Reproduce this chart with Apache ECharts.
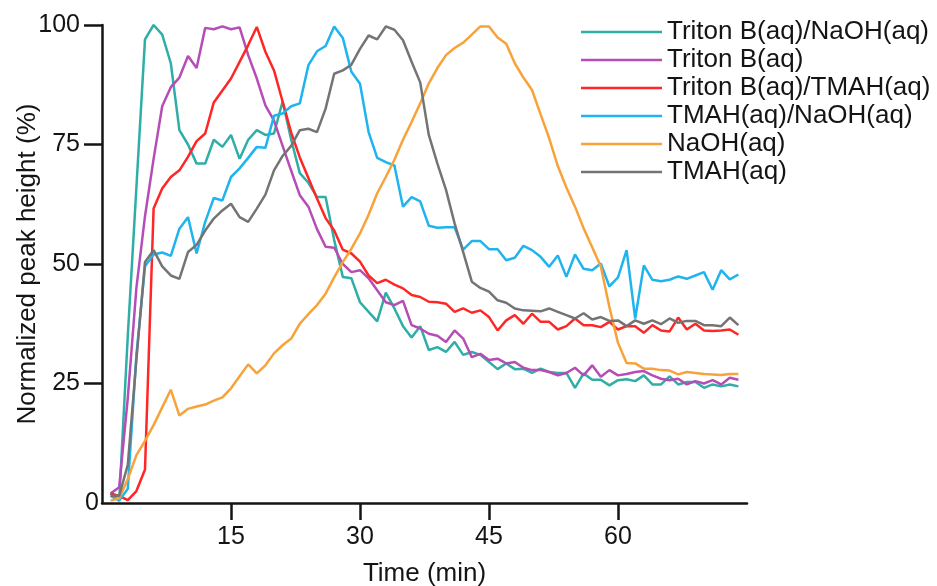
<!DOCTYPE html>
<html>
<head>
<meta charset="utf-8">
<script src="https://cdn.jsdelivr.net/npm/echarts@6/dist/echarts.min.js"></script>
<style>
html,body{margin:0;padding:0;background:#fff;}
#chart{width:937px;height:586px;}
</style>
</head>
<body>
<div id="chart"></div>
<script>
const times = [1,2,3,4,5,6,7,8,9,10,11,12,13,14,15,16,17,18,19,20,21,22,23,24,25,26,27,28,29,30,31,32,33,34,35,36,37,38,39,40,41,42,43,44,45,46,47,48,49,50,51,52,53,54,55,56,57,58,59,60,61,62,63,64,65,66,67,68,69,70,71,72,73,74];

const tritonNaOH = [2,0.5,35,66,97,100,98,92,78,75, 71,71,76,74.5,77,72,76,78,77,77.3, 84,76,69,67,64,64,55,47.3,47,42, 40,38,44,40.7,37,34.6,37,32,32.6,31.6, 33.7,31,31.6,31,29.5,28,29.2,28,28.1,27.2, 28.1,27.4,27.2,27.2,24.1,27.1,25.8,25.8,24.6,25.7, 25.9,25.5,26.7,24.8,24.8,26.5,24.8,25.3,25.3,24.1, 24.8,24.4,24.8,24.4];

const triton = [2,3.3,22,45,60,72,83,87,89,93.5, 91,99.4,99.1,99.7,99.1,99.5,93.7,88.8,83.2,80, 74.7,69.5,64.4,62,57.3,53.6,53.4,50,48.3,48.7, 47,44.5,42,41.4,42.3,37.2,36.5,35.4,35,33.7, 36.1,34.4,30.5,31.2,29.9,30.2,29.2,29.5,28.3,27.8, 27.8,27.4,26.7,27.2,28.3,26.7,28.8,26.4,27.8,26.7, 27,27.4,27.6,26.7,26,25.7,26,24.8,25.5,25, 25.7,24.8,26.2,25.8];

const tritonTMAH = [2,1.5,0.6,2.5,7,61.6,65.8,68.2,69.6,72.4, 75.7,77.3,83.8,86.3,88.8,92.3,95.8,99.6,94.4,90.5, 84,77.5,72.3,68,63.7,59.6,57,53,52.2,50.5, 47.6,46,46.7,45.7,44.9,43.5,43.1,42.1,42,41.7, 40,40.7,39.8,40.3,38.9,36.1,38.2,39.3,37.5,39.6, 37.9,37.9,36.3,37,38.6,37.2,37.2,36.8,37.9,36.3, 37,37,35.6,37.2,36.1,35.9,38.8,36.3,37.5,36.1, 36,36.1,36.3,35.2];

const tmahNaOH = [1.5,0.5,3,31,49.5,52,52.4,51.7,57.4,59.8, 52.2,58.8,63.8,63.3,68.2,70,72.2,74.5,74.3,81, 81.5,83,83.6,91.6,94.5,95.6,99.7,97.3,90.2,87.7, 77.6,72.2,71.3,70.6,62,64,63.1,58,57.6,57.7, 57.7,53,54.8,54.8,53.1,53.1,50.8,51.3,53.8,52.9, 51.5,49.4,51.8,47.3,52,49,48.7,50.1,45.3,47.2, 52.9,38.6,49.7,46.7,46.4,46.7,47.4,46.9,47.6,48.3, 44.6,48.7,46.8,47.8];

const naoh = [0.5,1,5,10,13,16.3,20,23.7,18.3,19.7, 20.2,20.6,21.4,22.1,24,26.5,29,27.1,28.8,31.3, 33,34.4,37.5,39.5,41.4,43.8,47.2,50.4,53.2,56.4, 60.3,64.8,68.2,71.8,76,79.7,83.6,87.8,91,93.7, 95.2,96.3,98,99.7,99.7,97.4,96.1,92,89,86.4, 81.3,76.3,70.5,66,62,57.5,53.5,49.5,41,33.5, 29.3,29.2,28.1,28.1,27.8,27.7,26.9,27.4,27.2,27, 26.9,26.8,27,27];

const tmah = [1.5,1.5,8,30,50.4,52.9,49.5,47.6,46.9,52.5, 54,57,59.5,61.2,62.6,59.8,58.8,61.6,64.5,69.6, 72.6,74.7,78,78.3,77.6,82.5,89.8,90.5,91.7,95, 97.8,97,99.7,99,96.8,92.3,88,77,71,65.5, 58.5,52.5,46.3,45,44.2,42.4,41.9,40.7,40.3,40.2, 40.1,40.7,40,39.3,38.6,39.7,38.4,38.9,38.1,38.2, 37,38.2,37.5,38.2,37.4,38.6,37.7,38.1,38.1,37.2, 37.2,37,38.8,37.2];

const seriesNames = ['Triton B(aq)/NaOH(aq)','Triton B(aq)','Triton B(aq)/TMAH(aq)','TMAH(aq)/NaOH(aq)','NaOH(aq)','TMAH(aq)'];
const seriesValues = [tritonNaOH, triton, tritonTMAH, tmahNaOH, naoh, tmah];
const seriesColors = ['#2eaea6','#b64db6','#ff2626','#1fb4ef','#f8a23a','#747474'];

// tick labels
const xTickMin = 15, xTickMax = 60, xTickStep = 15;   // labels 15, 30, 45, 60
const yTickMin = 25, yTickMax = 100, yTickStep = 25;  // labels 25, 50, 75, 100
const xMin = 0, xMax = 75, yMin = 0, yMax = 100;

const FONT = '"Liberation Sans", Arial, Helvetica, sans-serif';
const TXT = '#141414';

// plot area (pixels) of the main grid
const PL = 102, PR = 747, PT = 25, PB = 503, W = 937, H = 586;
const xPx = v => PL + (v - xMin) / (xMax - xMin) * (PR - PL);
const yPx = v => PB - (v - yMin) / (yMax - yMin) * (PB - PT);

const chart = echarts.init(document.getElementById('chart'), null, {renderer:'canvas'});
const hiddenAxis = (gi, min, max) => ({type:'value', gridIndex:gi, min, max, show:false});
chart.setOption({
  animation:false,
  backgroundColor:'#fff',
  grid:[
    {left:PL, right:W-PR, top:PT, bottom:H-PB, containLabel:false, outerBoundsMode:'none'},
    {left:xPx(xTickMin), right:W-xPx(xTickMax), top:PT, bottom:H-PB, containLabel:false, outerBoundsMode:'none'},
    {left:PL, right:W-PR, top:yPx(yTickMax), bottom:H-yPx(yTickMin), containLabel:false, outerBoundsMode:'none'}
  ],
  legend:{
    orient:'vertical', left:576, top:13,
    icon:'rect', itemWidth:81, itemHeight:2.5, itemGap:0,
    textStyle:{fontSize:26, lineHeight:28, color:TXT, fontFamily:FONT},
    data:seriesNames
  },
  xAxis:[{
    type:'value', gridIndex:0, min:xMin, max:xMax,
    axisLine:{show:true, onZero:false, lineStyle:{color:TXT, width:2.5}},
    axisTick:{show:false}, axisLabel:{show:false}, splitLine:{show:false},
    name:'Time (min)', nameLocation:'middle', nameGap:58, nameMoveOverlap:false,
    nameTextStyle:{fontSize:26, color:TXT, fontFamily:FONT}
  },{
    type:'value', gridIndex:1, min:xTickMin, max:xTickMax, interval:xTickStep,
    axisLine:{show:false, onZero:false},
    axisTick:{show:true, length:17, lineStyle:{color:TXT, width:2.5}},
    axisLabel:{show:true, fontSize:25, color:TXT, margin:22, fontFamily:FONT},
    splitLine:{show:false}
  }, hiddenAxis(2, xMin, xMax)],
  yAxis:[{
    type:'value', gridIndex:0, min:yMin, max:yMax, interval:yTickStep,
    axisLine:{show:true, onZero:false, lineStyle:{color:TXT, width:2.5}},
    axisTick:{show:false},
    axisLabel:{show:true, fontSize:25, color:TXT, margin:3, fontFamily:FONT,
      formatter: v => (v === yMin ? String(v) : '')},
    splitLine:{show:false},
    name:'Normalized peak height (%)', nameLocation:'middle', nameGap:61, nameRotate:90, nameMoveOverlap:false,
    nameTextStyle:{fontSize:26, color:TXT, fontFamily:FONT}
  }, hiddenAxis(1, yMin, yMax), {
    type:'value', gridIndex:2, min:yTickMin, max:yTickMax, interval:yTickStep,
    axisLine:{show:false, onZero:false},
    axisTick:{show:true, length:18, lineStyle:{color:TXT, width:2.5}},
    axisLabel:{show:true, fontSize:25, color:TXT, margin:22, fontFamily:FONT},
    splitLine:{show:false}
  }],
  series: seriesNames.map((n,i)=>({
    name:n, type:'line', symbol:'none', xAxisIndex:0, yAxisIndex:0,
    color:seriesColors[i],
    lineStyle:{width:2.5, color:seriesColors[i]},
    data: times.map((t,j)=>[t, seriesValues[i][j]])
  }))
});
</script>
</body>
</html>
